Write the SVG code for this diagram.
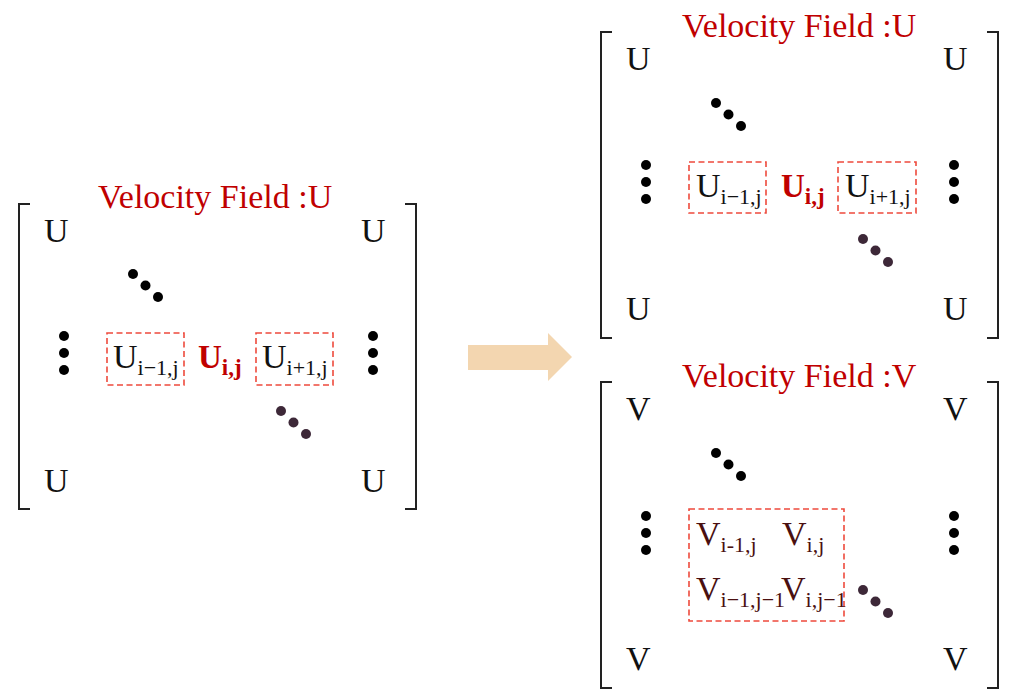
<svg xmlns="http://www.w3.org/2000/svg" width="1010" height="690" viewBox="0 0 1010 690">
<style>
.t{font-family:"Liberation Serif","Times New Roman",serif;fill:#c00000;font-size:34px}
.m{font-family:"Liberation Serif","Times New Roman",serif;fill:#111;font-size:34px}
.s{font-size:22px}
.b{font-family:"Liberation Serif","Times New Roman",serif;fill:#c00000;font-size:33px;font-weight:bold}
.bs{font-size:23px}
.v{font-family:"Liberation Serif","Times New Roman",serif;fill:#4a1010;font-size:34px}
.br{fill:none;stroke:#222;stroke-width:2}
.dash{fill:none;stroke:#ee4a3c;stroke-width:1.6;stroke-dasharray:6 3.5}
.k{fill:#000}
.p{fill:#3d2838}
</style>
<defs>
<g id="vd"><circle cx="0" cy="0" r="5"/><circle cx="0" cy="17" r="5"/><circle cx="0" cy="34" r="5"/></g>
<g id="dd"><circle cx="0" cy="0" r="5"/><circle cx="12.5" cy="11.5" r="5"/><circle cx="25" cy="23" r="5"/></g>
</defs>

<g id="left-matrix">
<text class="t" x="98" y="208">Velocity Field :U</text>
<path class="br" d="M30,204 H19 V509 H30"/>
<path class="br" d="M405,204 H416 V509 H405"/>
<text class="m" x="44" y="242">U</text>
<text class="m" x="361" y="242">U</text>
<text class="m" x="44" y="492">U</text>
<text class="m" x="361" y="492">U</text>
<use href="#dd" x="133" y="274" class="k"/>
<use href="#vd" x="64" y="336" class="k"/>
<use href="#vd" x="373" y="336" class="k"/>
<use href="#dd" x="281" y="411" class="p"/>
<rect class="dash" x="107" y="333" width="77" height="52"/>
<text class="m" x="113" y="368">U<tspan class="s" dy="7">i−1,j</tspan></text>
<text class="b" x="198" y="368">U<tspan class="bs" dy="7">i,j</tspan></text>
<rect class="dash" x="256" y="333" width="77" height="52"/>
<text class="m" x="262" y="368">U<tspan class="s" dy="7">i+1,j</tspan></text>
</g>

<g id="arrow">
<polygon points="468,345 548,345 548,333 572,357 548,381 548,370 468,370" fill="#f3d6b0"/>
</g>

<g id="right-u-matrix">
<text class="t" x="682" y="37">Velocity Field :U</text>
<path class="br" d="M612,32 H601 V338 H612"/>
<path class="br" d="M987,32 H998 V338 H987"/>
<text class="m" x="626" y="70">U</text>
<text class="m" x="943" y="70">U</text>
<text class="m" x="626" y="320">U</text>
<text class="m" x="943" y="320">U</text>
<use href="#dd" x="716" y="103" class="k"/>
<use href="#vd" x="646" y="165" class="k"/>
<use href="#vd" x="954" y="165" class="k"/>
<use href="#dd" x="863" y="239" class="p"/>
<rect class="dash" x="689" y="162" width="77" height="51"/>
<text class="m" x="696" y="197">U<tspan class="s" dy="7">i−1,j</tspan></text>
<text class="b" x="781" y="197">U<tspan class="bs" dy="7">i,j</tspan></text>
<rect class="dash" x="838" y="162" width="78" height="51"/>
<text class="m" x="845" y="197">U<tspan class="s" dy="7">i+1,j</tspan></text>
</g>

<g id="right-v-matrix">
<text class="t" x="682" y="387">Velocity Field :V</text>
<path class="br" d="M612,382 H601 V688 H612"/>
<path class="br" d="M987,382 H998 V688 H987"/>
<text class="m" x="626" y="420">V</text>
<text class="m" x="943" y="420">V</text>
<text class="m" x="626" y="670">V</text>
<text class="m" x="943" y="670">V</text>
<use href="#dd" x="716" y="453" class="k"/>
<use href="#vd" x="646" y="516" class="k"/>
<use href="#vd" x="954" y="516" class="k"/>
<use href="#dd" x="863" y="590" class="p"/>
<rect class="dash" x="689" y="509" width="155" height="112"/>
<text class="v" x="696" y="545">V<tspan class="s" dy="7">i-1,j</tspan></text>
<text class="v" x="782" y="545">V<tspan class="s" dy="7">i,j</tspan></text>
<text class="v" x="696" y="600">V<tspan class="s" dy="7">i−1,j−1</tspan></text>
<text class="v" x="781" y="600">V<tspan class="s" dy="7">i,j−1</tspan></text>
</g>
</svg>
